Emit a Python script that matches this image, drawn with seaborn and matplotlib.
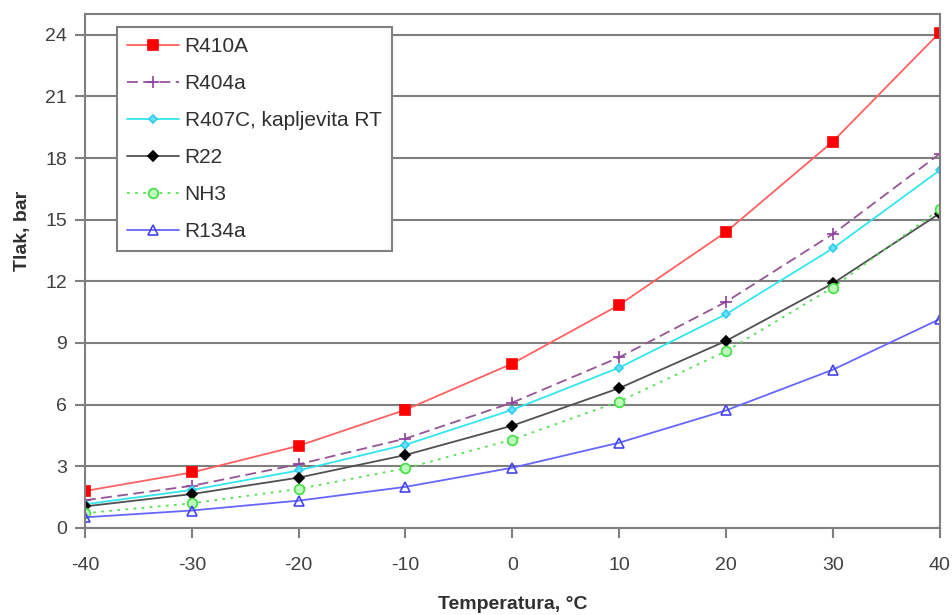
import matplotlib
matplotlib.use("Agg")
import matplotlib.pyplot as plt
import seaborn as sns
import pandas as pd

temperature = [-40, -30, -20, -10, 0, 10, 20, 30, 40]
r410a = [1.8, 2.7, 4.0, 5.75, 8.0, 10.85, 14.4, 18.8, 24.1]
r404a = [1.35, 2.05, 3.1, 4.35, 6.1, 8.3, 11.0, 14.3, 18.2]
r407c = [1.15, 1.85, 2.8, 4.05, 5.75, 7.8, 10.4, 13.6, 17.4]
r22 = [1.05, 1.65, 2.45, 3.55, 4.98, 6.8, 9.1, 11.9, 15.3]
nh3 = [0.72, 1.2, 1.9, 2.9, 4.3, 6.15, 8.6, 11.7, 15.5]
r134a = [0.52, 0.85, 1.33, 2.0, 2.93, 4.15, 5.72, 7.7, 10.16]
series_names = ["R410A", "R404a", "R407C, kapljevita RT", "R22", "NH3", "R134a"]
x_ticks = [-40, -30, -20, -10, 0, 10, 20, 30, 40]
y_ticks = [0, 3, 6, 9, 12, 15, 18, 21, 24]

sns.set_theme(style="white")
plt.rcParams['font.family'] = ['Liberation Sans', 'DejaVu Sans']
plt.rcParams['axes.unicode_minus'] = False

values = [r410a, r404a, r407c, r22, nh3, r134a]
df = pd.DataFrame({
    "T": temperature * len(series_names),
    "p": [v for s in values for v in s],
    "series": [n for n in series_names for _ in temperature],
})

styles = {
    "R410A": dict(color="#FF6060", mcolor="#FF0000", marker="s", ls="-", ms=7, mfc="#FF0000"),
    "R404a": dict(color="#955595", mcolor="#8E3E9E", marker="+", ls=(0, (6, 3)), ms=8, mfc="#993399"),
    "R407C, kapljevita RT": dict(color="#33E5F0", mcolor="#33CCEE", marker="D", ls="-", ms=4, mfc="#66E0FF"),
    "R22": dict(color="#505050", mcolor="#000000", marker="D", ls="-", ms=5, mfc="#000000"),
    "NH3": dict(color="#55E055", mcolor="#44DD44", marker="o", ls=(0, (1.5, 3)), ms=7, mfc="#BBFFBB"),
    "R134a": dict(color="#6666FF", mcolor="#4444EE", marker="^", ls="-", ms=7, mfc="none"),
}

fig = plt.figure(figsize=(9.52, 6.15), dpi=100)
ax = fig.add_axes([0.0893, 0.1415, 0.8977, 0.8355])

for name in series_names:
    st = styles[name]
    sub = df[df["series"] == name]
    sns.lineplot(data=sub, x="T", y="p", ax=ax, color=st["color"], linewidth=1.3,
                 linestyle=st["ls"], marker=st["marker"], markersize=st["ms"],
                 markerfacecolor=st["mfc"], markeredgecolor=st["mcolor"],
                 markeredgewidth=1.2, label=name)

ax.set_xlim(-40, 40)
ax.set_ylim(0, 25)
ax.set_xticks(x_ticks)
ax.set_yticks(y_ticks)
ax.yaxis.grid(True, color="#7f7f7f", linewidth=1.5)
ax.set_axisbelow(True)
for sp in ax.spines.values():
    sp.set_color("#7f7f7f")
    sp.set_linewidth(1.5)
ax.tick_params(axis="both", which="both", direction="out", length=7, width=1.5,
               color="#7f7f7f", labelsize=14, labelcolor="#404040", bottom=True, left=True)
ax.tick_params(axis="x", pad=14)
ax.tick_params(axis="y", pad=6)
ax.set_xlabel("Temperatura, °C", fontsize=14, fontweight="bold", color="#303030", labelpad=16)
ax.set_ylabel("Tlak, bar", fontsize=14, fontweight="bold", color="#303030")
ax.yaxis.set_label_coords(-0.063, 0.578)

leg = ax.legend(loc="upper left", bbox_to_anchor=(0.0374, 0.975), borderaxespad=0,
                fontsize=15, frameon=True, fancybox=False, edgecolor="#7f7f7f", framealpha=1,
                handlelength=2.5, labelspacing=0.86, borderpad=0.5, handletextpad=0.25)
leg.get_frame().set_linewidth(1.5)
for t in leg.get_texts():
    t.set_color("#303030")

fig.savefig("out.png", dpi=100)
